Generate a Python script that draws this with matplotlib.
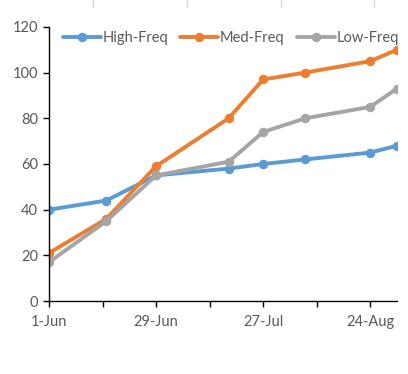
"""Frequency series over the summer, Excel-style line chart."""

import datetime as dt

import matplotlib

matplotlib.use("Agg")
import matplotlib.dates as mdates
import matplotlib.pyplot as plt
from matplotlib.lines import Line2D
from matplotlib.ticker import FuncFormatter, MultipleLocator

dates = [
    dt.date(2019, 6, 1),
    dt.date(2019, 6, 16),
    dt.date(2019, 6, 29),
    dt.date(2019, 7, 18),
    dt.date(2019, 7, 27),
    dt.date(2019, 8, 7),
    dt.date(2019, 8, 24),
    dt.date(2019, 8, 31),
]
high_freq = [40, 44, 55, 58, 60, 62, 65, 68]
med_freq = [21, 36, 59, 80, 97, 100, 105, 110]
low_freq = [17, 35, 55, 61, 74, 80, 85, 93]

series = [
    ("High-Freq", high_freq, "#5b9bd5"),
    ("Med-Freq", med_freq, "#ed7d31"),
    ("Low-Freq", low_freq, "#a5a5a5"),
]

plt.rcParams["font.family"] = ["Lato", "DejaVu Sans"]

fig = plt.figure(figsize=(4.08, 3.74), dpi=100)
ax = fig.add_axes([0.120, 0.195, 0.853, 0.733])

x = mdates.date2num(dates)
for name, values, color in series:
    ax.plot(x, values, color=color, lw=2.8, marker="o", ms=5.8, label=name,
            solid_joinstyle="round", solid_capstyle="round")

# faint gridline stubs peeking in at the very top of the image
for fx in (93, 187, 281, 374):
    fig.add_artist(Line2D([fx / 408, fx / 408], [1.0, 1 - 7 / 374], color="#d9d9d9", lw=1.0))

start = mdates.date2num(dt.date(2019, 6, 1))
ax.set_xlim(start, mdates.date2num(dt.date(2019, 8, 31)))
ax.set_ylim(0, 120)
ax.yaxis.set_major_locator(MultipleLocator(20))

ax.set_xticks([start + 28 * i for i in range(4)])
ax.set_xticks([start + 14 + 28 * i for i in range(3)], minor=True)
ax.xaxis.set_major_formatter(FuncFormatter(lambda v, _: f"{mdates.num2date(v).day}-{mdates.num2date(v):%b}"))

for side in ("top", "right"):
    ax.spines[side].set_visible(False)
for side in ("left", "bottom"):
    ax.spines[side].set_color("black")
    ax.spines[side].set_linewidth(1.0)

ax.tick_params(axis="both", which="both", direction="out", length=4, width=1.0, color="black",
               labelcolor="#595959", labelsize=10.5)
ax.tick_params(axis="x", pad=6)
ax.tick_params(axis="y", pad=4)

ax.legend(loc="upper left", bbox_to_anchor=(0.04, 0.985), ncol=3, frameon=False, fontsize=10.5,
          borderpad=0, borderaxespad=0, handlelength=2.6, columnspacing=0.85, handletextpad=0.1,
          labelcolor="#595959")

fig.savefig("out.png", dpi=100)
